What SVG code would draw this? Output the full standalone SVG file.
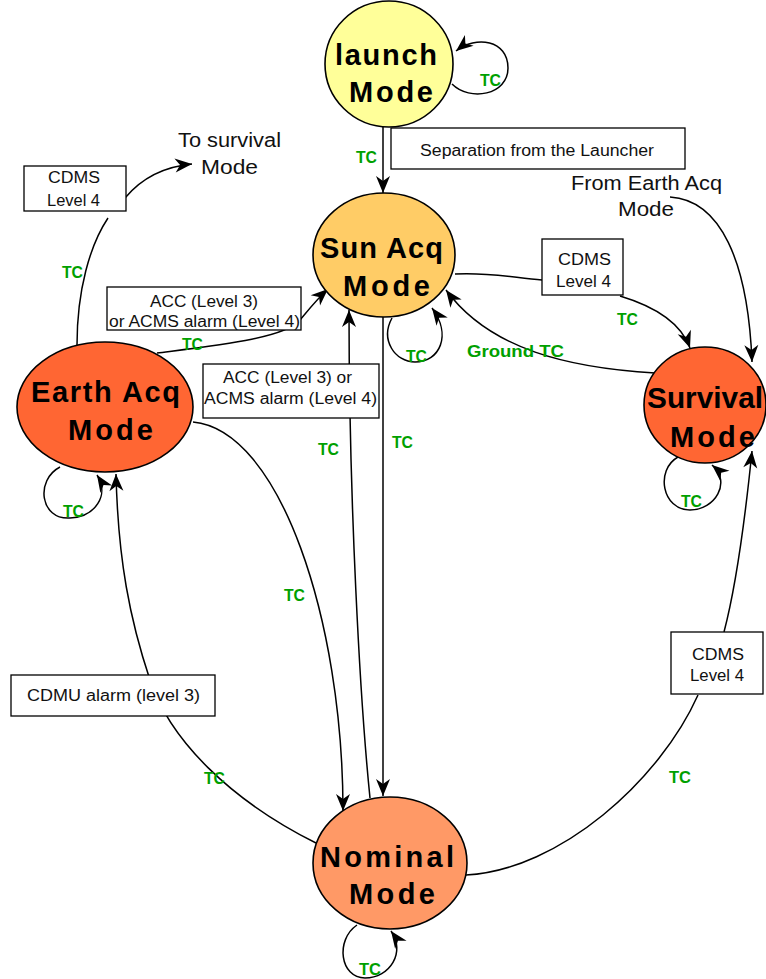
<svg xmlns="http://www.w3.org/2000/svg" width="766" height="979" viewBox="0 0 766 979">
<defs>
<marker id="ah" viewBox="-19 -8 20 16" refX="0" refY="0" markerWidth="20" markerHeight="16" markerUnits="userSpaceOnUse" orient="auto">
<path d="M0,0 L-17,-7 L-12,0 L-17,7 Z" fill="#000"/>
</marker>
<style>
.node{stroke:#000;stroke-width:1.6}
.nl{font-family:"Liberation Sans",Arial,sans-serif;font-weight:bold;font-size:29px;fill:#000;text-anchor:middle}
.c{fill:none;stroke:#000;stroke-width:1.5}
.ca{fill:none;stroke:#000;stroke-width:1.5;marker-end:url(#ah)}
.box{fill:#fff;stroke:#000;stroke-width:1.3}
.t{font-family:"Liberation Sans",Arial,sans-serif;font-size:16px;fill:#111;text-anchor:middle}
.tb{font-family:"Liberation Sans",Arial,sans-serif;font-size:20px;fill:#111;text-anchor:middle}
.tc{font-family:"Liberation Sans",Arial,sans-serif;font-weight:bold;font-size:16px;fill:#00A000}
</style>
</defs>
<rect width="766" height="979" fill="#fff"/>
<g id="connectors">
<path class="ca" d="M383,127 L383,193"/>
<path class="ca" d="M452,84 C470,102 508,95 508,68 C508,40 476,35 456,51"/>
<path class="ca" d="M383,317 L383,796"/>
<path class="ca" d="M370,798 C360,700 349,500 349,310"/>
<path class="ca" d="M193,422 C280,430 343,620 343,811"/>
<path class="ca" d="M316,843 C230,800 170,740 150,680 C130,620 118,560 116,474"/>
<path class="ca" d="M60,467 C35,480 40,520 70,518 C95,517 110,495 97,475"/>
<path class="ca" d="M392,318 C380,340 395,362 415,362 C440,362 452,335 432,308"/>
<path class="ca" d="M678,457 C655,470 662,510 690,510 C715,510 732,482 712,465"/>
<path class="ca" d="M357,925 C335,940 340,978 365,978 C390,978 406,952 391,931"/>
<path class="ca" d="M157,353 C220,345 285,338 300,320 C310,308 318,298 328,289"/>
<path class="c" d="M77,345 C77,290 90,245 108,218"/>
<path class="ca" d="M125,198 C140,180 160,167 192,164"/>
<path class="c" d="M455,274 C490,272 515,278 542,280"/>
<path class="ca" d="M620,296 C650,305 680,320 690,348"/>
<path class="ca" d="M655,373 C570,368 490,350 446,290"/>
<path class="ca" d="M670,197 C720,200 748,260 752,362"/>
<path class="c" d="M466,875 C560,870 660,780 698,695"/>
<path class="ca" d="M724,632 C735,590 745,520 752,451"/>

<rect class="box" x="391" y="128" width="294" height="41"/>
<text class="t" x="537" y="156" textLength="234" lengthAdjust="spacingAndGlyphs">Separation from the Launcher</text>

<rect class="box" x="24" y="166" width="102" height="45"/>
<text class="t" x="74" y="183" textLength="52" lengthAdjust="spacingAndGlyphs">CDMS</text>
<text class="t" x="73.5" y="206" textLength="53" lengthAdjust="spacingAndGlyphs">Level 4</text>

<rect class="box" x="107" y="287" width="194" height="43"/>
<text class="t" x="204" y="307" textLength="108" lengthAdjust="spacingAndGlyphs">ACC (Level 3)</text>
<text class="t" x="204.5" y="327" textLength="191" lengthAdjust="spacingAndGlyphs">or ACMS alarm (Level 4)</text>

<rect class="box" x="203" y="364" width="176" height="54"/>
<text class="t" x="287.5" y="383" textLength="129" lengthAdjust="spacingAndGlyphs">ACC (Level 3) or</text>
<text class="t" x="290.5" y="404" textLength="173" lengthAdjust="spacingAndGlyphs">ACMS alarm (Level 4)</text>

<rect class="box" x="542" y="239" width="81" height="56"/>
<text class="t" x="584.5" y="265" textLength="53" lengthAdjust="spacingAndGlyphs">CDMS</text>
<text class="t" x="583.5" y="287" textLength="55" lengthAdjust="spacingAndGlyphs">Level 4</text>

<rect class="box" x="11" y="675" width="204" height="41"/>
<text class="t" x="113.5" y="701" textLength="173" lengthAdjust="spacingAndGlyphs">CDMU alarm (level 3)</text>

<rect class="box" x="671" y="632" width="92" height="62"/>
<text class="t" x="718" y="660" textLength="52" lengthAdjust="spacingAndGlyphs">CDMS</text>
<text class="t" x="717" y="681" textLength="54" lengthAdjust="spacingAndGlyphs">Level 4</text>

<text class="tb" x="229.5" y="147" textLength="103" lengthAdjust="spacingAndGlyphs">To survival</text>
<text class="tb" x="229.5" y="174" textLength="57" lengthAdjust="spacingAndGlyphs">Mode</text>
<text class="tb" x="646.5" y="190" textLength="151" lengthAdjust="spacingAndGlyphs">From Earth Acq</text>
<text class="tb" x="646" y="216" textLength="56" lengthAdjust="spacingAndGlyphs">Mode</text>

<text class="tc" x="480" y="86" textLength="21" lengthAdjust="spacingAndGlyphs">TC</text>
<text class="tc" x="356" y="163" textLength="21" lengthAdjust="spacingAndGlyphs">TC</text>
<text class="tc" x="62" y="278" textLength="21" lengthAdjust="spacingAndGlyphs">TC</text>
<text class="tc" x="182" y="350" textLength="21" lengthAdjust="spacingAndGlyphs">TC</text>
<text class="tc" x="406" y="362" textLength="21" lengthAdjust="spacingAndGlyphs">TC</text>
<text class="tc" x="467" y="357" textLength="97" lengthAdjust="spacingAndGlyphs">Ground TC</text>
<text class="tc" x="617" y="325" textLength="21" lengthAdjust="spacingAndGlyphs">TC</text>
<text class="tc" x="63" y="517" textLength="21" lengthAdjust="spacingAndGlyphs">TC</text>
<text class="tc" x="318" y="455" textLength="21" lengthAdjust="spacingAndGlyphs">TC</text>
<text class="tc" x="392" y="448" textLength="21" lengthAdjust="spacingAndGlyphs">TC</text>
<text class="tc" x="284" y="601" textLength="21" lengthAdjust="spacingAndGlyphs">TC</text>
<text class="tc" x="681" y="507" textLength="21" lengthAdjust="spacingAndGlyphs">TC</text>
<text class="tc" x="204" y="784" textLength="21" lengthAdjust="spacingAndGlyphs">TC</text>
<text class="tc" x="669" y="783" textLength="22" lengthAdjust="spacingAndGlyphs">TC</text>
<text class="tc" x="359" y="975" textLength="22" lengthAdjust="spacingAndGlyphs">TC</text>
</g>

<g id="launch">
<ellipse class="node" cx="389" cy="64" rx="64" ry="63" fill="#FFFF99"/>
<text class="nl" x="386" y="65" textLength="102" lengthAdjust="spacing">launch</text>
<text class="nl" x="391" y="102" textLength="84" lengthAdjust="spacing">Mode</text>
</g>
<g id="sunacq">
<ellipse class="node" cx="384" cy="255" rx="71" ry="62" fill="#FFCC66"/>
<text class="nl" x="381.5" y="258" textLength="123" lengthAdjust="spacing">Sun Acq</text>
<text class="nl" x="386.5" y="296" textLength="87" lengthAdjust="spacing">Mode</text>
</g>
<g id="earthacq">
<ellipse class="node" cx="105" cy="407" rx="88" ry="65" fill="#FF6633"/>
<text class="nl" x="105.5" y="402" textLength="149" lengthAdjust="spacing">Earth Acq</text>
<text class="nl" x="110.5" y="440" textLength="85" lengthAdjust="spacing">Mode</text>
</g>
<g id="survival">
<ellipse class="node" cx="705" cy="405" rx="61" ry="58" fill="#FF6633"/>
<text class="nl" x="705" y="408" textLength="116" lengthAdjust="spacingAndGlyphs">Survival</text>
<text class="nl" x="712.5" y="447" textLength="85" lengthAdjust="spacing">Mode</text>
</g>
<g id="nominal">
<ellipse class="node" cx="390" cy="863" rx="77" ry="66" fill="#FF9966"/>
<text class="nl" x="387" y="867" textLength="134" lengthAdjust="spacing">Nominal</text>
<text class="nl" x="392" y="904" textLength="86" lengthAdjust="spacing">Mode</text>
</g>
</svg>
